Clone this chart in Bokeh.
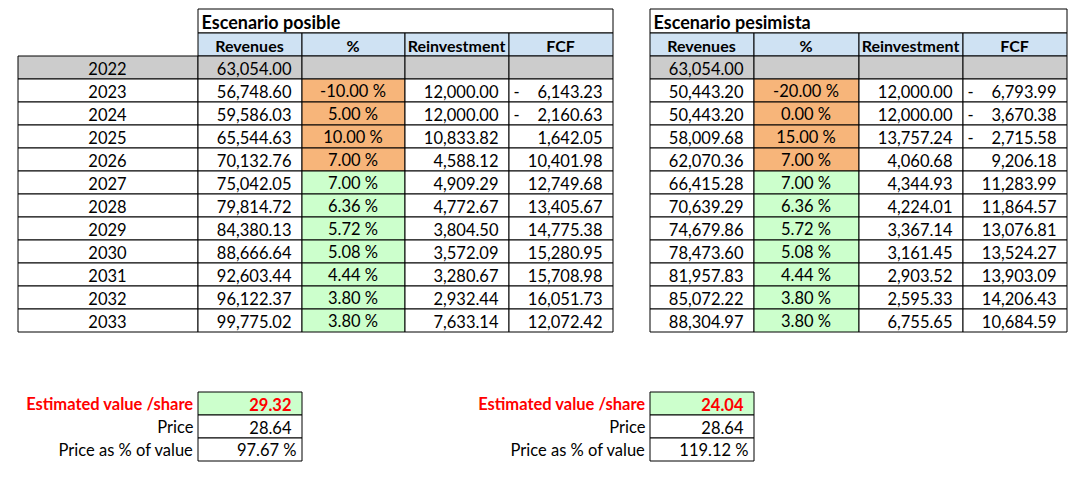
from bokeh.plotting import figure
from bokeh.models import ColumnDataSource, Range1d
from bokeh.core.properties import value
from bokeh.embed import file_html
from bokeh.resources import INLINE

# ---------------- data ----------------
years = [2022, 2023, 2024, 2025, 2026, 2027, 2028, 2029, 2030, 2031, 2032, 2033]

posible_rev = [63054.00, 56748.60, 59586.03, 65544.63, 70132.76, 75042.05,
               79814.72, 84380.13, 88666.64, 92603.44, 96122.37, 99775.02]
posible_pct = [None, -10.00, 5.00, 10.00, 7.00, 7.00, 6.36, 5.72, 5.08, 4.44, 3.80, 3.80]
posible_reinv = [None, 12000.00, 12000.00, 10833.82, 4588.12, 4909.29, 4772.67,
                 3804.50, 3572.09, 3280.67, 2932.44, 7633.14]
posible_fcf = [None, -6143.23, -2160.63, 1642.05, 10401.98, 12749.68, 13405.67,
               14775.38, 15280.95, 15708.98, 16051.73, 12072.42]

pesimista_rev = [63054.00, 50443.20, 50443.20, 58009.68, 62070.36, 66415.28,
                 70639.29, 74679.86, 78473.60, 81957.83, 85072.22, 88304.97]
pesimista_pct = [None, -20.00, 0.00, 15.00, 7.00, 7.00, 6.36, 5.72, 5.08, 4.44, 3.80, 3.80]
pesimista_reinv = [None, 12000.00, 12000.00, 13757.24, 4060.68, 4344.93, 4224.01,
                   3367.14, 3161.45, 2903.52, 2595.33, 6755.65]
pesimista_fcf = [None, -6793.99, -3670.38, -2715.58, 9206.18, 11283.99, 11864.57,
                 13076.81, 13524.27, 13903.09, 14206.43, 10684.59]

input_years = [2023, 2024, 2025, 2026]      # orange (manual) growth cells

titles = ["Escenario posible", "Escenario pesimista"]
headers = ["Revenues", "%", "Reinvestment", "FCF"]
summary_labels = ["Estimated value /share", "Price", "Price as % of value"]
est_value = [29.32, 24.04]
price = [28.64, 28.64]
price_pct = [97.67, 119.12]

# ---------------- style ----------------
FONT = "Lato"
FS = "16.5px"
HFS = "16px"
TFS = "18px"
GREY = "#CCCCCC"
BLUE = "#CFE2F3"
ORANGE = "#F7B57A"
GREEN = "#CCFFCC"
RED = "#FF0000"

W, H = 1076, 470
p = figure(width=W, height=H, x_range=Range1d(0, W), y_range=Range1d(H, 0),
           output_backend="svg", toolbar_location=None, min_border=0)
p.axis.visible = False
p.grid.visible = False
p.outline_line_color = None
p.background_fill_color = "white"

cells = dict(left=[], right=[], top=[], bottom=[], fill=[])
texts = {}


def add_cell(l, r, t, b, fill):
    cells["left"].append(l + 0.5)
    cells["right"].append(r + 0.5)
    cells["top"].append(t + 0.5)
    cells["bottom"].append(b + 0.5)
    cells["fill"].append(fill)


def add_text(x, y, s, align="right", bold=False, color="black", size=FS):
    key = (align, bold, color, size)
    d = texts.setdefault(key, dict(x=[], y=[], text=[]))
    d["x"].append(x)
    d["y"].append(y)
    d["text"].append(s)


def num(v):
    return f"{v:,.2f}"


TITLE_TOP, HEAD_TOP, ROW0, RH = 8, 32, 55, 23
PAD = 10


def draw_table(cols, title, rev, pct, reinv, fcf, year_col=None):
    x0, x1 = cols[0][0], cols[-1][1]
    add_cell(x0, x1, TITLE_TOP, HEAD_TOP, "white")
    add_text(x0 + 4, (TITLE_TOP + HEAD_TOP) / 2 + 1, title, align="left", bold=True, size=TFS)
    for (l, r), h in zip(cols, headers):
        add_cell(l, r, HEAD_TOP, ROW0, BLUE)
        add_text((l + r) / 2, (HEAD_TOP + ROW0) / 2 + 1, h, align="center", bold=True, size=HFS)
    allcols = ([year_col] if year_col else []) + cols
    for i, yr in enumerate(years):
        t, b = ROW0 + i * RH, ROW0 + (i + 1) * RH
        yc = (t + b) / 2 + 1
        for (l, r) in allcols:
            fill = "white"
            if i == 0:
                fill = GREY
            elif (l, r) == cols[1]:
                fill = ORANGE if yr in input_years else GREEN
            add_cell(l, r, t, b, fill)
        if year_col:
            add_text((year_col[0] + year_col[1]) / 2, yc, str(yr), align="center")
        add_text(cols[0][1] - PAD, yc, num(rev[i]))
        if pct[i] is not None:
            add_text((cols[1][0] + cols[1][1]) / 2, yc, f"{pct[i]:.2f} %", align="center")
        if reinv[i] is not None:
            add_text(cols[2][1] - PAD, yc, num(reinv[i]))
        if fcf[i] is not None:
            if fcf[i] < 0:
                add_text(cols[3][0] + 5, yc, "-", align="left")
            add_text(cols[3][1] - PAD, yc, num(abs(fcf[i])))


left_cols = [(197, 301), (301, 404), (404, 508), (508, 612)]
right_cols = [(649, 753), (753, 858), (858, 962), (962, 1066)]

draw_table(left_cols, titles[0], posible_rev, posible_pct, posible_reinv, posible_fcf,
           year_col=(17, 197))
draw_table(right_cols, titles[1], pesimista_rev, pesimista_pct, pesimista_reinv, pesimista_fcf)

# summary boxes
S0 = 391
for k, (l, r) in enumerate([(197, 301), (649, 753)]):
    vals = [num(est_value[k]), num(price[k]), f"{price_pct[k]:.2f} %"]
    for j in range(3):
        t, b = S0 + j * RH, S0 + (j + 1) * RH
        yc = (t + b) / 2 + 1
        add_cell(l, r, t, b, GREEN if j == 0 else "white")
        add_text(l - 4, yc, summary_labels[j], bold=(j == 0), color=RED if j == 0 else "black")
        add_text(r - (PAD if j < 2 else 5), yc, vals[j], bold=(j == 0),
                 color=RED if j == 0 else "black")

p.quad(left="left", right="right", top="top", bottom="bottom", fill_color="fill",
       line_color="black", line_width=1, source=ColumnDataSource(cells))

for (align, bold, color, size), d in texts.items():
    p.text(x="x", y="y", text="text", source=ColumnDataSource(d),
           text_align=align, text_baseline="middle", text_font=value(FONT),
           text_font_size=size, text_font_style="bold" if bold else "normal",
           text_color=color)

open("out.html", "w").write(file_html(p, INLINE))
